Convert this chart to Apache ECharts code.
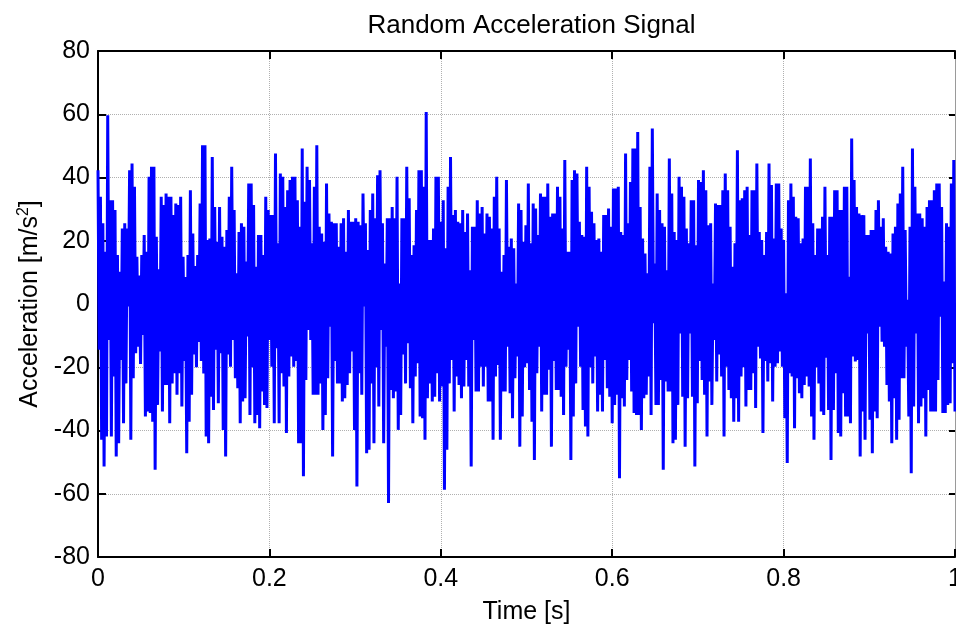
<!DOCTYPE html>
<html>
<head>
<meta charset="utf-8">
<script src="https://cdn.jsdelivr.net/npm/echarts@6/dist/echarts.min.js"></script>
<style>
html,body{margin:0;padding:0;background:#fff;overflow:hidden;}
#chart{width:956px;height:627px;}
</style>
</head>
<body>
<div id="chart"></div>
<script>
// Signal: upward and downward excursions, segment by segment (about 0.125 s each)
const peaksA = [42.3, 33.9, 25.5, 16.5, 59.7, 32.8, 32.8, 29.7, 15.5, 10.2, 23.9, 25.5, 23.9, 42.3, 44.4, 37.1, 14.9, 9.0, 15.5, 21.8, 16.5, 40.2, 43.4, 43.4, 21.3, 11.0, 33.9, 31.3, 34.9, 33.9, 33.9, 28.1, 31.8, 31.3, 33.9, 14.9, 8.5, 15.5, 36.0, 22.3, 12.0, 15.5, 31.8, 50.2];
const troughsA = [-14.5, -42.9, -51.4, -41.9, -11.4, -41.9, -22.9, -48.2, -44.0, -17.7, -37.7, -25.1, -0.8, -42.9, -23.5, -15.6, -13.5, -19.0, -9.8, -35.6, -34.0, -34.5, -37.2, -52.4, -31.9, -15.0, -34.0, -25.6, -25.6, -37.7, -25.1, -21.9, -28.7, -21.9, -32.4, -18.0, -47.2, -37.2, -28.7, -16.0, -20.0, -12.0, -18.0, -22.0];

const peaksB = [50.2, 20.2, 20.7, 46.5, 30.7, 19.7, 30.7, 21.3, 18.1, 23.4, 33.9, 43.4, 29.7, 9.7, 22.8, 25.5, 24.4, 13.4, 38.1, 38.1, 31.3, 11.8, 21.8, 21.8, 15.5, 33.9, 29.7, 28.1, 28.1, 47.6, 19.2, 41.3, 40.2, 30.7, 36.0, 39.2, 40.2, 40.2, 32.8, 24.4, 49.2, 32.3, 43.4, 39.2, 19.2];
const troughsB = [-41.9, -44.0, -29.3, -33.5, -14.5, -31.4, -15.6, -39.8, -48.2, -16.0, -19.8, -11.4, -23.5, -26.6, -37.7, -30.8, -29.8, -10.3, -35.1, -20.0, -37.7, -35.1, -39.3, -27.7, -31.9, -32.9, -11.4, -19.8, -37.7, -14.0, -37.7, -21.9, -26.1, -40.8, -22.9, -16.6, -19.8, -18.0, -44.0, -44.0, -54.5, -24.0, -8.2, -11.4, -28.7];

const peaksC = [37.1, 50.2, 24.4, 22.3, 19.7, 38.1, 28.6, 26.0, 25.5, 25.5, 18.1, 25.5, 27.1, 16.5, 29.7, 26.0, 26.0, 27.1, 26.0, 24.9, 34.9, 25.5, 17.1, 29.7, 34.9, 27.1, 40.7, 42.3, 25.5, 12.8, 27.1, 27.1, 30.7, 27.1, 40.2, 6.5, 27.1, 27.1, 43.4, 33.4, 15.5, 18.6, 29.7, 42.3];
const troughsC = [-28.7, -28.7, -25.1, -39.8, -35.1, -23.5, -7.2, -48.2, -18.0, -25.1, -25.1, -30.8, -29.8, -25.6, -21.9, -15.0, -39.8, -57.7, -21.9, -28.7, -0.8, -47.2, -46.1, -25.1, -44.0, -20.0, -32.4, -8.2, -44.0, -13.5, -62.9, -27.2, -29.8, -27.7, -39.8, -35.1, -16.0, -25.1, -12.4, -26.6, -37.7, -22.9, -18.7, -35.6];

const peaksD = [42.3, 37.1, 60.7, 20.2, 20.2, 23.9, 40.2, 40.2, 26.0, 32.8, 17.6, 37.1, 46.5, 28.1, 29.7, 26.0, 25.5, 29.7, 22.8, 28.6, 10.7, 24.4, 24.4, 32.8, 28.6, 30.7, 22.3, 28.6, 27.6, 23.9, 33.9, 40.2, 23.9, 10.2, 15.5, 39.2, 18.1, 20.7, 17.6, 6.5, 31.8, 29.7, 19.7];
const troughsD = [-36.1, -42.9, -29.8, -25.1, -30.8, -29.3, -21.9, -30.8, -26.1, -58.7, -46.1, -25.1, -17.7, -34.0, -22.9, -25.6, -29.8, -26.1, -17.7, -26.1, -51.4, -11.4, -27.7, -27.7, -19.8, -26.1, -19.8, -30.8, -30.8, -42.9, -22.9, -19.3, -42.9, -27.7, -27.7, -13.5, -28.2, -36.1, -23.5, -16.6, -45.1, -35.6, -20.0];

const peaksE = [24.9, 38.1, 19.2, 31.8, 30.2, 21.8, 34.9, 33.9, 33.9, 38.1, 27.6, 28.6, 28.6, 37.1, 33.9, 23.9, 45.5, 16.5, 16.5, 39.2, 42.3, 41.3, 26.0, 21.8, 21.3, 43.4, 37.1, 29.2, 25.5, 20.2, 20.7, 16.5, 28.1, 28.1, 30.2, 24.4, 36.5, 36.5, 37.1, 22.8, 21.8, 47.6, 25.5, 38.6, 49.2];
const troughsE = [-18.7, -27.2, -37.2, -49.3, -21.9, -13.5, -34.0, -28.7, -28.7, -20.8, -45.1, -18.0, -27.2, -27.2, -29.3, -35.1, -19.8, -14.5, -49.3, -35.6, -25.1, -7.2, -19.8, -33.5, -38.7, -41.9, -20.0, -25.1, -16.6, -34.0, -28.7, -34.0, -17.7, -26.6, -29.3, -37.7, -31.9, -28.7, -55.1, -29.8, -32.4, -24.0, -17.7, -27.7, -34.5];

const peaksF = [49.2, 54.4, 30.7, 20.7, 16.0, 9.7, 43.4, 55.5, 12.8, 34.9, 29.7, 25.5, 24.4, 10.7, 46.0, 34.9, 22.8, 20.2, 40.2, 37.1, 33.9, 23.9, 19.2, 32.8, 32.8, 18.6, 39.2, 38.6, 42.3, 36.0, 24.9, 25.5, 6.5, 31.8, 31.3, 31.3, 36.0, 41.3, 36.0, 24.4, 11.8, 19.2, 48.6, 32.8, 33.4];
const troughsF = [-35.1, -35.1, -39.8, -29.8, -28.7, -22.9, -35.1, -6.1, -31.9, -31.9, -24.0, -52.4, -24.5, -27.7, -27.7, -44.0, -42.9, -31.9, -9.3, -29.3, -45.1, -29.8, -9.3, -29.3, -51.4, -31.4, -18.0, -24.0, -28.7, -41.9, -24.5, -31.9, -11.4, -24.5, -16.0, -22.9, -41.9, -19.8, -27.2, -29.8, -37.2, -29.8, -37.2, -22.9, -20.0];

const peaksG = [36.0, 37.1, 21.8, 36.0, 36.0, 44.4, 22.8, 20.2, 15.5, 22.8, 44.4, 37.6, 20.7, 38.1, 38.1, 23.9, 20.2, 3.4, 32.8, 38.1, 33.9, 27.6, 27.1, 19.2, 20.7, 37.1, 37.1, 46.0, 25.5, 15.5, 23.9, 23.9, 27.6, 37.1, 15.5, 27.6, 27.6, 36.0, 36.0, 29.7, 29.7, 37.1, 37.1, 8.6, 52.3];
const troughsG = [-32.4, -27.2, -27.2, -21.9, -32.9, -13.5, -17.2, -40.8, -18.0, -24.5, -18.7, -30.8, -19.8, -18.7, -15.0, -19.8, -36.1, -50.3, -21.9, -22.9, -39.3, -23.5, -28.2, -29.8, -25.6, -22.9, -26.1, -35.6, -42.9, -20.0, -25.1, -34.0, -35.1, -17.0, -33.5, -49.3, -33.5, -21.9, -40.8, -41.9, -28.2, -35.6, -35.6, -37.7, -16.6];

const peaksH = [39.2, 30.7, 28.6, 28.1, 28.1, 21.8, 21.8, 23.4, 23.4, 29.7, 32.8, 24.4, 27.1, 18.1, 16.5, 16.0, 22.3, 24.4, 31.8, 34.9, 43.4, 23.4, 1.3, 24.4, 49.2, 37.1, 28.6, 28.6, 27.1, 24.4, 30.7, 32.8, 32.8, 36.0, 38.1, 38.1, 30.7, 7.1, 25.5, 24.4, 38.1, 45.5];
const troughsH = [-18.2, -17.7, -48.2, -34.0, -42.9, -9.3, -36.6, -47.2, -34.0, -36.1, -7.2, -11.9, -13.5, -25.6, -30.8, -44.0, -29.8, -42.9, -36.6, -23.5, -23.5, -13.5, -35.6, -53.5, -32.4, -9.3, -37.7, -32.4, -29.8, -41.9, -27.2, -34.0, -34.0, -34.0, -24.0, -4.0, -34.5, -34.5, -31.9, -31.4, -18.7, -34.0];

const durationSec = 1.0;
const xTicks = [0, 0.2, 0.4, 0.6, 0.8, 1];
const yTicks = [-80, -60, -40, -20, 0, 20, 40, 60, 80];

const segments = [
  [peaksA, troughsA], [peaksB, troughsB], [peaksC, troughsC], [peaksD, troughsD],
  [peaksE, troughsE], [peaksF, troughsF], [peaksG, troughsG], [peaksH, troughsH]
];
const accel = [];
segments.forEach(([p, t]) => {
  const n = Math.max(p.length, t.length);
  for (let k = 0; k < n; k++) {
    if (k < p.length) accel.push(p[k]);
    if (k < t.length) accel.push(t[k]);
  }
});
const seriesData = accel.map((v, i) => [i * durationSec / (accel.length - 1), v]);

const FONT = '"Liberation Sans", Arial, Helvetica, sans-serif';
const chart = echarts.init(document.getElementById('chart'), null, {renderer: 'canvas'});
const gridLeft = 98, gridTop = 51, gridW = 857, gridH = 506;

chart.setOption({
  animation: false,
  backgroundColor: '#ffffff',
  title: {
    text: 'Random Acceleration Signal',
    left: gridLeft + gridW / 2, textAlign: 'center',
    top: 8,
    textStyle: {fontFamily: FONT, fontSize: 26, fontWeight: 'normal', color: '#000'}
  },
  grid: {left: gridLeft, top: gridTop, width: gridW, height: gridH, containLabel: false, outerBoundsMode: 'none'},
  xAxis: [{
    type: 'value', min: xTicks[0], max: xTicks[xTicks.length - 1], interval: 0.2,
    position: 'bottom',
    name: 'Time [s]', nameLocation: 'middle', nameGap: 43,
    nameTextStyle: {fontFamily: FONT, fontSize: 25, color: '#000'},
    axisLine: {show: true, onZero: false, lineStyle: {color: '#000', width: 2}},
    axisTick: {show: true, inside: true, length: 8, lineStyle: {color: '#000', width: 2}},
    axisLabel: {fontFamily: FONT, fontSize: 25, color: '#000', margin: 10, hideOverlap: false},
    splitLine: {show: true, lineStyle: {type: 'dotted', color: '#b0b0b0', width: 1}}
  }, {
    type: 'value', min: xTicks[0], max: xTicks[xTicks.length - 1], interval: 0.2,
    position: 'top',
    axisLine: {show: true, onZero: false, lineStyle: {color: '#000', width: 2}},
    axisTick: {show: true, inside: true, length: 8, lineStyle: {color: '#000', width: 2}},
    axisLabel: {show: false},
    splitLine: {show: false}
  }],
  yAxis: [{
    type: 'value', min: yTicks[0], max: yTicks[yTicks.length - 1], interval: 20,
    position: 'left',
    name: 'Acceleration [m/s{sup|2}]', nameLocation: 'middle', nameGap: 54, nameRotate: 90,
    nameTextStyle: {
      fontFamily: FONT, fontSize: 25, color: '#000',
      rich: {sup: {fontFamily: FONT, fontSize: 16, color: '#000', verticalAlign: 'top', padding: [0, 0, 12, 0]}}
    },
    axisLine: {show: true, onZero: false, lineStyle: {color: '#000', width: 2}},
    axisTick: {show: true, inside: true, length: 8, lineStyle: {color: '#000', width: 2}},
    axisLabel: {fontFamily: FONT, fontSize: 25, color: '#000', margin: 8},
    splitLine: {show: true, lineStyle: {type: 'dotted', color: '#b0b0b0', width: 1}}
  }, {
    type: 'value', min: yTicks[0], max: yTicks[yTicks.length - 1], interval: 20,
    position: 'right',
    axisLine: {show: true, onZero: false, lineStyle: {color: '#9a9a9a', width: 1}},
    axisTick: {show: true, inside: true, length: 6, lineStyle: {color: '#000', width: 2}},
    axisLabel: {show: false},
    splitLine: {show: false}
  }],
  series: [{
    type: 'line',
    xAxisIndex: 0, yAxisIndex: 0,
    data: seriesData,
    showSymbol: false,
    symbol: 'none',
    sampling: null,
    lineStyle: {color: '#0000ff', width: 3},
    z: 3
  }]
});
</script>
</body>
</html>
